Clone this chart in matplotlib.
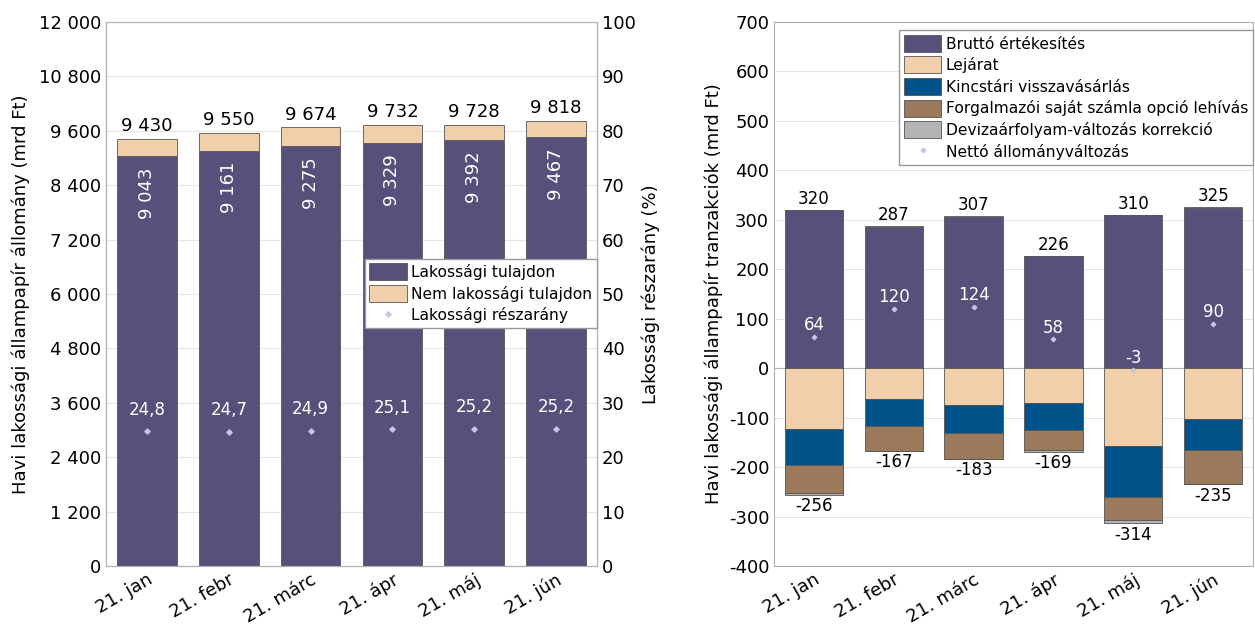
import matplotlib
matplotlib.use("Agg")
import matplotlib.pyplot as plt
import numpy as np
from matplotlib.ticker import FuncFormatter, MultipleLocator

plt.rcParams['font.family'] = ['DejaVu Sans']
plt.rcParams['axes.unicode_minus'] = False

months = ["21. jan", "21. febr", "21. márc", "21. ápr", "21. máj", "21. jún"]

# Left chart
lakossagi = [9043, 9161, 9275, 9329, 9392, 9467]
total_stock = [9430, 9550, 9674, 9732, 9728, 9818]
share = [24.8, 24.7, 24.9, 25.1, 25.2, 25.2]
share_labels = ["24,8", "24,7", "24,9", "25,1", "25,2", "25,2"]

# Right chart
brutto = [320, 285, 306, 226, 310, 323]
lejarat = [-123, -63, -75, -70, -157, -102]
kincstari = [-72, -54, -57, -54, -103, -64]
forgalmazoi = [-57, -50, -51, -41, -46, -69]
deviza = [-4, 2, 1, -4, -8, 2]
pos_totals = [320, 287, 307, 226, 310, 325]
neg_totals = [-256, -167, -183, -169, -314, -235]
netto = [64, 120, 124, 58, -3, 90]

C_PURPLE = "#56507a"
C_PEACH = "#f2cfab"
C_BLUE = "#005288"
C_BROWN = "#9b7a5c"
C_GREY = "#b3b3b3"
C_POINT = "#c9c3e3"
EDGE = "#555555"
FS = 13
LFS = 11.2

fig = plt.figure(figsize=(12.55, 6.29), dpi=100)
ax1 = fig.add_axes([106/1255, 1-566/629, 491/1255, 544/629])
ax2 = fig.add_axes([774/1255, 1-566/629, 479/1255, 544/629])

def style(ax):
    for s in ax.spines.values():
        s.set_color("#b0b0b0")
        s.set_linewidth(0.8)
    ax.grid(axis="y", color="#e6e6e6", linewidth=0.8)
    ax.set_axisbelow(True)
    ax.tick_params(length=0, labelsize=FS)

x = np.arange(len(months))
w = 0.73

# ---- Left
style(ax1)
nonlak = [t - l for t, l in zip(total_stock, lakossagi)]
ax1.bar(x, lakossagi, w, color=C_PURPLE, edgecolor=EDGE, linewidth=0.6, label="Lakossági tulajdon", zorder=2)
ax1.bar(x, nonlak, w, bottom=lakossagi, color=C_PEACH, edgecolor=EDGE, linewidth=0.6, label="Nem lakossági tulajdon", zorder=2)
ax1.set_ylim(0, 12000)
ax1.set_xlim(-0.5, 5.5)
ax1.yaxis.set_major_locator(MultipleLocator(1200))
ax1.yaxis.set_major_formatter(FuncFormatter(lambda v, p: f"{int(v):,}".replace(",", " ")))
ax1.set_xticks(x)
ax1.set_xticklabels(months, rotation=30, ha="right", rotation_mode="anchor")
ax1.set_ylabel("Havi lakossági állampapír állomány (mrd Ft)", fontsize=FS, labelpad=6)
for i in range(len(months)):
    ax1.text(x[i], total_stock[i] + 80, f"{total_stock[i]:,}".replace(",", " "), ha="center", va="bottom", fontsize=FS)
    ax1.text(x[i], lakossagi[i] - 250, f"{lakossagi[i]:,}".replace(",", " "), ha="center", va="top",
             rotation=90, color="white", fontsize=FS)

ax1r = ax1.twinx()
ax1r.set_position(ax1.get_position())
ax1r.set_ylim(0, 100)
ax1r.yaxis.set_major_locator(MultipleLocator(10))
ax1r.tick_params(length=0, labelsize=FS)
for s in ax1r.spines.values():
    s.set_color("#b0b0b0")
    s.set_linewidth(0.8)
ax1r.scatter(x, share, marker="D", s=7, color=C_POINT, zorder=3, label="Lakossági részarány")
for i in range(len(months)):
    ax1r.text(x[i], share[i] + 2.3, share_labels[i], ha="center", va="bottom", color="white", fontsize=FS - 1)
ax1r.set_ylabel("Lakossági részarány (%)", fontsize=FS, labelpad=4)

h1, l1 = ax1.get_legend_handles_labels()
h2, l2 = ax1r.get_legend_handles_labels()
ax1r.legend(h1 + h2, l1 + l2, loc="upper right", bbox_to_anchor=(1.0, 0.565), fontsize=LFS,
            frameon=True, fancybox=False, edgecolor="#999999", framealpha=1,
            handlelength=2.4, handleheight=1.3, handletextpad=0.3, borderpad=0.3, labelspacing=0.3,
            borderaxespad=0)

# ---- Right
style(ax2)
dev_pos = [max(d, 0) for d in deviza]
dev_neg = [min(d, 0) for d in deviza]
hb = ax2.bar(x, brutto, w, color=C_PURPLE, edgecolor=EDGE, linewidth=0.6, label="Bruttó értékesítés", zorder=2)
ax2.bar(x, dev_pos, w, bottom=brutto, color=C_GREY, edgecolor=EDGE, linewidth=0.6, zorder=2)
b = np.zeros(len(months))
hl = ax2.bar(x, lejarat, w, bottom=b, color=C_PEACH, edgecolor=EDGE, linewidth=0.6, label="Lejárat", zorder=2)
b = b + np.array(lejarat)
hk = ax2.bar(x, kincstari, w, bottom=b, color=C_BLUE, edgecolor=EDGE, linewidth=0.6, label="Kincstári visszavásárlás", zorder=2)
b = b + np.array(kincstari)
hf = ax2.bar(x, forgalmazoi, w, bottom=b, color=C_BROWN, edgecolor=EDGE, linewidth=0.6, label="Forgalmazói saját számla opció lehívás", zorder=2)
b = b + np.array(forgalmazoi)
hd = ax2.bar(x, dev_neg, w, bottom=b, color=C_GREY, edgecolor=EDGE, linewidth=0.6, label="Devizaárfolyam-változás korrekció", zorder=2)
hn = ax2.scatter(x, netto, marker="D", s=5, color=C_POINT, zorder=3, label="Nettó állományváltozás")
ax2.axhline(0, color="#b0b0b0", linewidth=0.8, zorder=1)
for i in range(len(months)):
    ax2.text(x[i], pos_totals[i] + 4, str(pos_totals[i]), ha="center", va="bottom", fontsize=FS - 1)
    ax2.text(x[i], neg_totals[i] - 5, str(neg_totals[i]), ha="center", va="top", fontsize=FS - 1)
    ax2.text(x[i], netto[i] + 5, str(netto[i]), ha="center", va="bottom", color="white", fontsize=FS - 1)
ax2.set_ylim(-400, 700)
ax2.set_xlim(-0.5, 5.5)
ax2.yaxis.set_major_locator(MultipleLocator(100))
ax2.set_xticks(x)
ax2.set_xticklabels(months, rotation=30, ha="right", rotation_mode="anchor")
ax2.set_ylabel("Havi lakossági állampapír tranzakciók (mrd Ft)", fontsize=FS, labelpad=4)
ax2.legend([hb, hl, hk, hf, hd, hn],
           [h.get_label() for h in [hb, hl, hk, hf, hd, hn]],
           loc="upper right", bbox_to_anchor=(1.0, 0.985), fontsize=LFS,
           frameon=True, fancybox=False, edgecolor="#999999", framealpha=1,
           handlelength=2.4, handleheight=1.3, handletextpad=0.3, borderpad=0.3, labelspacing=0.3,
           borderaxespad=0)

fig.savefig("out.png", dpi=100)
